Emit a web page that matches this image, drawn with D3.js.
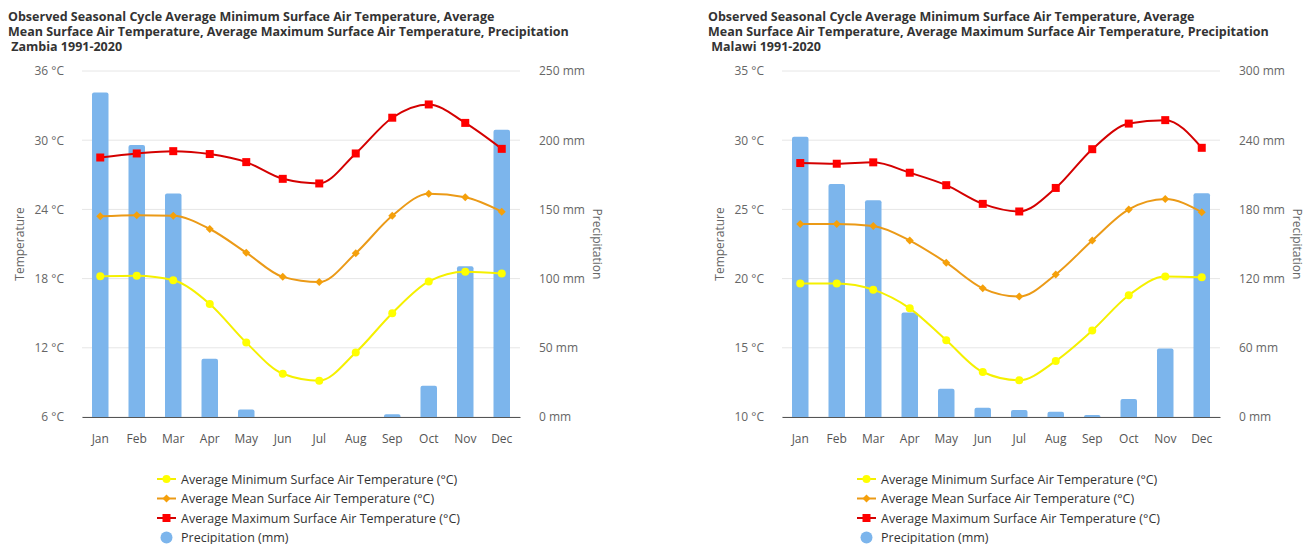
<!DOCTYPE html>
<html>
<head>
<meta charset="utf-8">
<script src="https://cdn.jsdelivr.net/npm/d3@7/dist/d3.min.js"></script>
<style>
  body { margin: 0; background: #fff; }
  svg { font-family: "Open Sans", "Noto Sans", sans-serif; }
</style>
</head>
<body>
<svg id="chart" width="1305" height="544"></svg>
<script>
const months = ["Jan","Feb","Mar","Apr","May","Jun","Jul","Aug","Sep","Oct","Nov","Dec"];

const zambiaMin    = [18.2, 18.25, 17.85, 15.8, 12.45, 9.75, 9.15, 11.6, 15.0, 17.75, 18.6, 18.45];
const zambiaMean   = [23.4, 23.5, 23.45, 22.3, 20.25, 18.15, 17.7, 20.2, 23.45, 25.35, 25.05, 23.8];
const zambiaMax    = [28.5, 28.85, 29.05, 28.8, 28.1, 26.65, 26.25, 28.85, 31.95, 33.1, 31.5, 29.25];
const zambiaPrecip = [234.5, 196.5, 161.5, 42, 5.5, 0, 0, 0, 2, 22.5, 109, 207.5];
const zambiaTempTicks   = [6, 12, 18, 24, 30, 36];
const zambiaPrecipTicks = [0, 50, 100, 150, 200, 250];

const malawiMin    = [19.65, 19.65, 19.2, 17.85, 15.55, 13.25, 12.65, 14.05, 16.25, 18.8, 20.15, 20.1];
const malawiMean   = [23.95, 23.95, 23.8, 22.75, 21.15, 19.3, 18.7, 20.3, 22.75, 25.0, 25.75, 24.8];
const malawiMax    = [28.35, 28.3, 28.4, 27.65, 26.75, 25.4, 24.85, 26.55, 29.35, 31.2, 31.45, 29.45];
const malawiPrecip = [243, 202, 188, 90.5, 24.5, 8, 6, 4.5, 1.7, 15.5, 59.5, 194];
const malawiTempTicks   = [10, 15, 20, 25, 30, 35];
const malawiPrecipTicks = [0, 60, 120, 180, 240, 300];

const svg = d3.select("#chart");

function drawChart(offsetX, country, tMin, tMean, tMax, precip, tTicks, pTicks) {
  const g = svg.append("g").attr("transform", "translate(" + offsetX + ",0)");
  const left = 82, right = 520, top = 71, bottom = 417;

  // title
  const title = g.append("text")
    .attr("font-size", 12.5).attr("font-weight", "bold").attr("fill", "#333");
  const lines = [
    "Observed Seasonal Cycle Average Minimum Surface Air Temperature, Average",
    "Mean Surface Air Temperature, Average Maximum Surface Air Temperature, Precipitation",
    "\u00a0" + country + " 1991-2020"
  ];
  lines.forEach((l, i) => {
    title.append("tspan").attr("x", 8).attr("y", 21 + i * 15).text(l);
  });

  const x = d3.scaleBand().domain(months).range([left, right]);
  const yT = d3.scaleLinear().domain([tTicks[0], tTicks[tTicks.length - 1]]).range([bottom, top]);
  const yP = d3.scaleLinear().domain([pTicks[0], pTicks[pTicks.length - 1]]).range([bottom, top]);

  // gridlines
  g.append("g").selectAll("line").data(tTicks).enter().append("line")
    .attr("x1", left).attr("x2", right)
    .attr("y1", d => yT(d)).attr("y2", d => yT(d))
    .attr("stroke", "#e6e6e6").attr("stroke-width", 1);

  // left axis
  const la = g.append("g").attr("transform", "translate(" + (left - 15) + ",0)")
    .call(d3.axisLeft(yT).tickValues(tTicks).tickFormat(d => d + " \u00b0C").tickSize(0));
  la.select(".domain").remove();
  la.selectAll("text").attr("font-size", 12).attr("fill", "#666").attr("font-family", "Open Sans, sans-serif");

  // right axis
  const ra = g.append("g").attr("transform", "translate(" + (right + 16) + ",0)")
    .call(d3.axisRight(yP).tickValues(pTicks).tickFormat(d => d + " mm").tickSize(0));
  ra.select(".domain").remove();
  ra.selectAll("text").attr("font-size", 12).attr("fill", "#666").attr("font-family", "Open Sans, sans-serif");

  // axis titles
  g.append("text").attr("transform", "translate(24," + ((top + bottom) / 2) + ") rotate(-90)")
    .attr("text-anchor", "middle").attr("font-size", 12).attr("fill", "#666").text("Temperature");
  g.append("text").attr("transform", "translate(593," + ((top + bottom) / 2) + ") rotate(90)")
    .attr("text-anchor", "middle").attr("font-size", 12).attr("fill", "#666").text("Precipitation");

  // bars
  const bw = 16.5;
  g.append("g").selectAll("path").data(precip).enter().append("path")
    .attr("fill", "#7cb5ec")
    .attr("d", (d, i) => {
      const x0 = x(months[i]) + x.bandwidth() / 2 - bw / 2;
      const y0 = yP(d);
      const h = bottom - y0;
      if (h <= 0) return "";
      const r = Math.min(2, h);
      return "M" + x0 + "," + bottom + "V" + (y0 + r) + "Q" + x0 + "," + y0 + " " + (x0 + r) + "," + y0 +
        "H" + (x0 + bw - r) + "Q" + (x0 + bw) + "," + y0 + " " + (x0 + bw) + "," + (y0 + r) + "V" + bottom + "Z";
    });

  // x axis
  const xa = g.append("g").attr("transform", "translate(0," + bottom + ")")
    .call(d3.axisBottom(x).tickSize(0).tickPadding(17));
  xa.select(".domain").attr("stroke", "#555").attr("stroke-width", 1.2);
  xa.selectAll("text").attr("font-size", 12).attr("fill", "#555").attr("font-family", "Open Sans, sans-serif");

  const cx = i => x(months[i]) + x.bandwidth() / 2;
  const line = d3.line().x((d, i) => cx(i)).y(d => yT(d)).curve(d3.curveMonotoneX);

  const series = [
    { data: tMin, color: "#ffff00", line: "#f5f000", shape: "circle" },
    { data: tMean, color: "#f5a00a", line: "#eb9a17", shape: "diamond" },
    { data: tMax, color: "#ff0000", line: "#d40000", shape: "square" }
  ];

  series.forEach(s => {
    g.append("path").datum(s.data).attr("d", line)
      .attr("fill", "none").attr("stroke", s.line).attr("stroke-width", 2);
    drawMarkers(g, s.data.map((d, i) => [cx(i), yT(d)]), s.shape, s.color);
  });

  // legend
  const lg = g.append("g").attr("transform", "translate(157,0)");
  const items = [
    { label: "Average Minimum Surface Air Temperature (\u00b0C)", s: series[0] },
    { label: "Average Mean Surface Air Temperature (\u00b0C)", s: series[1] },
    { label: "Average Maximum Surface Air Temperature (\u00b0C)", s: series[2] },
    { label: "Precipitation (mm)", s: null }
  ];
  items.forEach((it, i) => {
    const yy = 479 + i * 19.5;
    if (it.s) {
      lg.append("line").attr("x1", 0).attr("x2", 19).attr("y1", yy).attr("y2", yy)
        .attr("stroke", it.s.line).attr("stroke-width", 2);
      drawMarkers(lg, [[9.5, yy]], it.s.shape, it.s.color);
    } else {
      lg.append("circle").attr("cx", 9.5).attr("cy", yy).attr("r", 6).attr("fill", "#7cb5ec");
    }
    lg.append("text").attr("x", 24).attr("y", yy + 4.5)
      .attr("font-size", 12.5).attr("fill", "#333").text(it.label);
  });
}

function drawMarkers(g, pts, shape, color) {
  const sel = g.append("g").selectAll("path").data(pts).enter().append("path").attr("fill", color);
  if (shape === "circle") {
    sel.attr("d", p => "M" + (p[0] - 4) + "," + p[1] + "a4,4 0 1,0 8,0a4,4 0 1,0 -8,0");
  } else if (shape === "diamond") {
    sel.attr("d", p => "M" + p[0] + "," + (p[1] - 4) + "L" + (p[0] + 4) + "," + p[1] +
      "L" + p[0] + "," + (p[1] + 4) + "L" + (p[0] - 4) + "," + p[1] + "Z");
  } else {
    sel.attr("d", p => "M" + (p[0] - 4) + "," + (p[1] - 4) + "h8v8h-8Z");
  }
}

drawChart(0, "Zambia", zambiaMin, zambiaMean, zambiaMax, zambiaPrecip, zambiaTempTicks, zambiaPrecipTicks);
drawChart(700, "Malawi", malawiMin, malawiMean, malawiMax, malawiPrecip, malawiTempTicks, malawiPrecipTicks);
</script>
</body>
</html>
